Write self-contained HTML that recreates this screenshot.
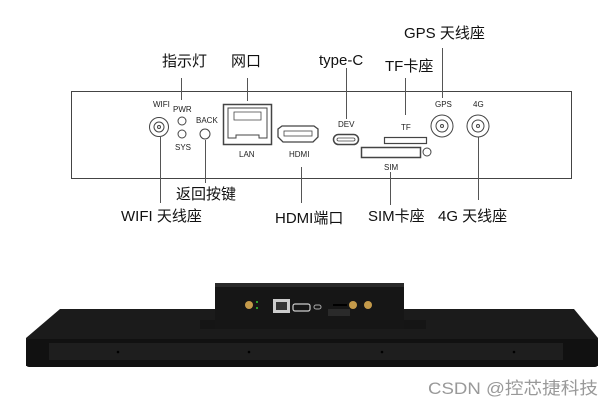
<!DOCTYPE html>
<html><head><meta charset="utf-8"><style>
html,body{margin:0;padding:0;background:#fff;}
svg{display:block;}
.l{font-family:"Liberation Sans","Noto Sans CJK SC",sans-serif;font-size:15px;fill:#111;}
.s{font-family:"Liberation Sans",sans-serif;font-size:8px;fill:#222;}
</style></head><body>
<svg width="614" height="407" viewBox="0 0 614 407" xmlns="http://www.w3.org/2000/svg">
<rect x="71.5" y="91.5" width="500" height="87" fill="none" stroke="#444" stroke-width="1"/>
<g stroke="#555" stroke-width="1" fill="none">
<line x1="181.5" y1="78" x2="181.5" y2="100"/>
<line x1="247.5" y1="78" x2="247.5" y2="101"/>
<line x1="346.5" y1="68" x2="346.5" y2="119"/>
<line x1="405.5" y1="78" x2="405.5" y2="115"/>
<line x1="442.5" y1="48" x2="442.5" y2="98"/>
<line x1="160.5" y1="137" x2="160.5" y2="203"/>
<line x1="205.5" y1="140" x2="205.5" y2="183"/>
<line x1="301.5" y1="167" x2="301.5" y2="203"/>
<line x1="390.5" y1="172" x2="390.5" y2="205"/>
<line x1="478.5" y1="137" x2="478.5" y2="200"/>
</g>
<text class="l" x="162" y="66">指示灯</text>
<text class="l" x="231" y="66">网口</text>
<text class="l" x="319" y="65">type-C</text>
<text class="l" x="385" y="71">TF卡座</text>
<text class="l" x="404" y="38">GPS 天线座</text>
<text class="l" x="176" y="199">返回按键</text>
<text class="l" x="121" y="221">WIFI 天线座</text>
<text class="l" x="275" y="223">HDMI端口</text>
<text class="l" x="368" y="221">SIM卡座</text>
<text class="l" x="438" y="221">4G 天线座</text>
<g stroke="#444" fill="none">
<circle cx="159" cy="127" r="9.5" stroke-width="1"/><circle cx="159" cy="127" r="5"/><circle cx="159" cy="127" r="1.5"/>
<circle cx="182" cy="121" r="4"/><circle cx="182" cy="134" r="4"/>
<circle cx="205" cy="134" r="5"/>
<rect x="223.5" y="104.5" width="48" height="40" stroke-width="1.5"/>
<path d="M228 108 H267 V138 H259 V135 H236 V138 H228 Z" stroke-width="1"/>
<path d="M234 112 H261 V120 H234 Z" stroke-width="0.8"/>
<path d="M278 129 L282 126 H314 L318 129 V137 L313 142 H283 L278 137 Z" stroke-width="1.3"/>
<rect x="284" y="131" width="28" height="5" stroke-width="0.8"/>
<rect x="333.5" y="134.5" width="25" height="10" rx="5" stroke-width="1.5"/>
<rect x="337" y="138" width="18" height="3" rx="1.5" stroke-width="0.8"/>
<rect x="384.5" y="137.5" width="42" height="6" stroke-width="1.2"/>
<rect x="361.5" y="147.5" width="59" height="10" stroke-width="1.5"/>
<circle cx="427" cy="152" r="4"/>
<circle cx="442" cy="126" r="11"/><circle cx="442" cy="126" r="6"/><circle cx="442" cy="126" r="1.5"/>
<circle cx="478" cy="126" r="11"/><circle cx="478" cy="126" r="6"/><circle cx="478" cy="126" r="1.5"/>
</g>
<text class="s" x="153" y="107">WIFI</text>
<text class="s" x="173" y="112">PWR</text>
<text class="s" x="175" y="150">SYS</text>
<text class="s" x="196" y="123">BACK</text>
<text class="s" x="239" y="157">LAN</text>
<text class="s" x="289" y="157">HDMI</text>
<text class="s" x="338" y="127">DEV</text>
<text class="s" x="401" y="130">TF</text>
<text class="s" x="384" y="170">SIM</text>
<text class="s" x="435" y="107">GPS</text>
<text class="s" x="473" y="107">4G</text>
<path d="M60 309 H574 L598 338 V366 H26 V338 Z" fill="#1b1b1b"/>
<rect x="26" y="339" width="572" height="28" rx="3" fill="#111"/>
<rect x="49" y="343" width="514" height="17" fill="#1e1e1e"/>
<g fill="#000"><circle cx="118" cy="352" r="1.3"/><circle cx="249" cy="352" r="1.3"/><circle cx="382" cy="352" r="1.3"/><circle cx="514" cy="352" r="1.3"/></g>
<rect x="200" y="320" width="226" height="9" fill="#151515"/>
<rect x="215" y="283" width="189" height="46" fill="#161616"/>
<rect x="215" y="283" width="189" height="4" fill="#2a2a2a"/>
<circle cx="249" cy="305" r="4" fill="#c49a4a"/>
<circle cx="353" cy="305" r="4" fill="#c49a4a"/>
<circle cx="368" cy="305" r="4" fill="#c49a4a"/>
<circle cx="257" cy="302" r="1" fill="#3c3"/><circle cx="257" cy="308" r="1" fill="#3c3"/>
<rect x="273" y="299" width="17" height="14" fill="#ccc"/><rect x="276" y="302" width="11" height="8" fill="#333"/>
<rect x="293" y="304" width="17" height="7" rx="2" fill="none" stroke="#ccc" stroke-width="1.2"/>
<rect x="314" y="305" width="7" height="4" rx="2" fill="none" stroke="#aaa" stroke-width="1"/>
<rect x="328" y="309" width="22" height="7" fill="#2a2a2a"/>
<rect x="333" y="304" width="14" height="2" fill="#000"/>
<text x="428" y="394" font-family="'Liberation Sans','Noto Sans CJK SC',sans-serif" font-size="17" fill="#999" textLength="170" lengthAdjust="spacingAndGlyphs">CSDN @控芯捷科技</text>
</svg>
</body></html>
